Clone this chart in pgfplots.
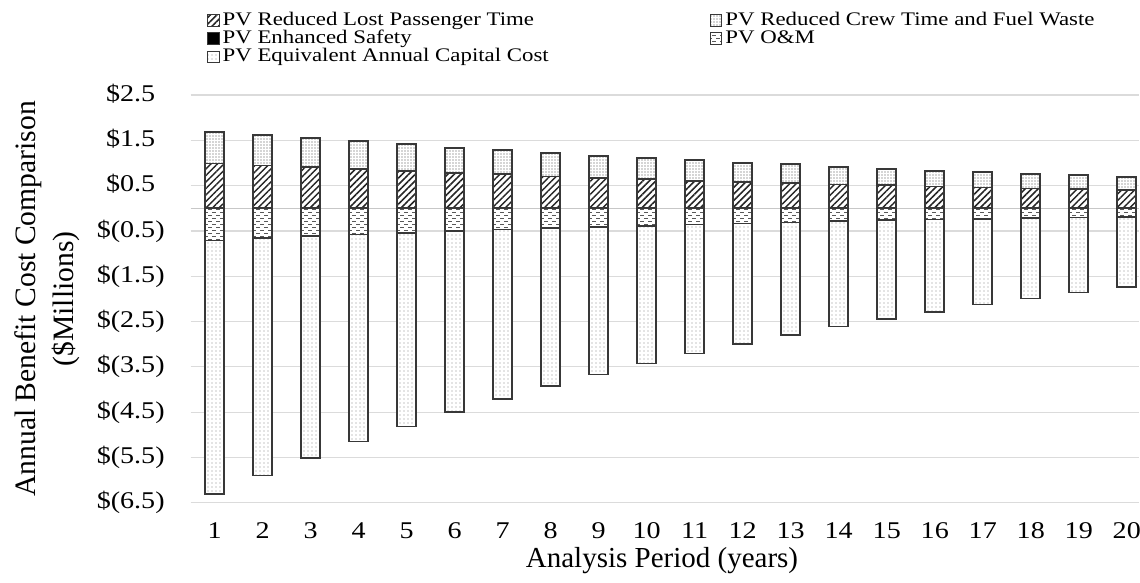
\documentclass[border=0pt]{standalone}
\usepackage{fontspec}
\setmainfont{Liberation Serif}
\usepackage{pgfplots}
\pgfplotsset{compat=1.18}
\usepackage{pgfplotstable}
\usetikzlibrary{patterns,patterns.meta}

\pgfdeclarepatternformonly{hdash}{\pgfqpoint{-0.5pt}{-0.5pt}}{\pgfqpoint{4.5pt}{3.5pt}}{\pgfqpoint{4pt}{3pt}}{%
  \pgfsetlinewidth{0.45pt}%
  \pgfpathmoveto{\pgfqpoint{0.2pt}{0.75pt}}\pgfpathlineto{\pgfqpoint{1.9pt}{0.75pt}}%
  \pgfpathmoveto{\pgfqpoint{2.2pt}{2.25pt}}\pgfpathlineto{\pgfqpoint{3.9pt}{2.25pt}}%
  \pgfusepath{stroke}}

\pgfplotstableread{
x pass crew safe
1  0.985 0.693 0.010
2  0.940 0.678 0.010
3  0.905 0.640 0.010
4  0.861 0.609 0.010
5  0.817 0.587 0.010
6  0.779 0.552 0.010
7  0.751 0.521 0.010
8  0.698 0.507 0.010
9  0.662 0.493 0.010
10 0.640 0.464 0.010
11 0.603 0.457 0.010
12 0.581 0.419 0.010
13 0.559 0.403 0.010
14 0.521 0.391 0.010
15 0.508 0.353 0.010
16 0.477 0.346 0.010
17 0.455 0.340 0.010
18 0.433 0.324 0.010
19 0.419 0.301 0.010
20 0.397 0.287 0.010
}\postab

\pgfplotstableread{
x om cap
1  -0.715 -5.592
2  -0.662 -5.241
3  -0.618 -4.894
4  -0.583 -4.569
5  -0.545 -4.276
6  -0.508 -3.989
7  -0.472 -3.738
8  -0.442 -3.487
9  -0.419 -3.254
10 -0.391 -3.039
11 -0.362 -2.848
12 -0.340 -2.656
13 -0.318 -2.479
14 -0.287 -2.327
15 -0.258 -2.186
16 -0.252 -2.037
17 -0.236 -1.892
18 -0.221 -1.775
19 -0.208 -1.655
20 -0.192 -1.545
}\negtab

\newcommand{\lgx}[1]{\scalebox{1.19}[1]{#1}}

\pgfplotsset{
  baseax/.style={
    scale only axis, width=474.15pt, height=203.85pt,
    at={(95.35pt,40.15pt)}, anchor=south west,
    xmin=0.5, xmax=20.255, ymin=-6.5, ymax=2.5,
    ybar stacked, bar width=9.5pt,
  },
  sq legend/.style={legend image code/.code={\draw[##1,line width=0.5pt] (0pt,-2.9pt) rectangle (5.8pt,2.9pt);}},
  barbase/.style={draw=black!78, line width=0.8pt, fill=white, sq legend},
  passS/.style={barbase, postaction={pattern={Lines[angle=45,distance=2.3pt,line width=0.75pt]}, pattern color=black!85}},
  crewS/.style={barbase, postaction={pattern={Dots[distance=1.5pt,radius=0.32pt]}, pattern color=black!70}},
  safeS/.style={barbase, fill=black},
  omS/.style={barbase, postaction={pattern=hdash, pattern color=black!65}},
  capS/.style={barbase, postaction={pattern={Dots[distance=2pt,radius=0.28pt]}, pattern color=black!45}},
}

\begin{document}
\begin{tikzpicture}
\begin{axis}[baseax,
  axis line style={draw=none}, major tick length=0pt, tick style={draw=none},
  ymajorgrids, grid style={draw=black!14, line width=0.6pt},
  ytick={-6.5,-5.5,-4.5,-3.5,-2.5,-1.5,-0.5,0.5,1.5,2.5},
  yticklabels={\$(6.5),\$(5.5),\$(4.5),\$(3.5),\$(2.5),\$(1.5),\$(0.5),\$0.5\phantom{)},\$1.5\phantom{)},\$2.5\phantom{)}},
  extra y ticks={0}, extra y tick labels={},
  extra y tick style={grid style={draw=black!22, line width=0.7pt}},
  xtick={1,2,3,4,5,6,7,8,9,10,11,12,13,14,15,16,17,18,19,20},
  xticklabels={1,2,3,4,5,6,7,8,9,10,11,12,13,14,15,16,17,18,19,20},
  ticklabel style={font=\fontsize{12}{14}\selectfont},
  yticklabel style={anchor=east, inner sep=0pt, xshift=-12.8pt, xscale=1.17},
  xticklabel style={anchor=base, inner sep=0pt, yshift=-18.1pt, xscale=1.17},
  xlabel={Analysis Period (years)},
  xlabel style={font=\fontsize{14.5}{16}\selectfont, at={(axis description cs:0.497,-0.160)}, anchor=base, inner sep=0pt},
  ylabel={Annual Benefit Cost Comparison\\(\$Millions)},
  ylabel style={font=\fontsize{14.8}{19}\selectfont, align=center, at={(axis description cs:-0.186,0.5)}, anchor=north, inner sep=0pt},
]
\addplot[omS] table[x=x,y=om]{\negtab};
\addplot[capS] table[x=x,y=cap]{\negtab};
\end{axis}
\begin{axis}[baseax, hide axis,
  legend columns=2,
  legend style={at={(axis description cs:0.0172,1.206)}, anchor=north west, draw=none, fill=none,
    inner sep=0pt, outer sep=0pt, row sep=0pt,
    font=\fontsize{9.6}{11}\selectfont,
    nodes={inner ysep=0pt, inner xsep=1.5pt, text height=7pt, text depth=2.2pt},
    /tikz/every even column/.append style={column sep=79pt}},
  legend cell align=left,
]
\addplot[passS] table[x=x,y=pass]{\postab};
\addlegendentry{\lgx{PV Reduced Lost Passenger Time}}
\addplot[crewS] table[x=x,y=crew]{\postab};
\addlegendentry{\lgx{PV Reduced Crew Time and Fuel Waste}}
\addplot[safeS] table[x=x,y=safe]{\postab};
\addlegendentry{\lgx{PV Enhanced Safety}}
\addlegendimage{omS}
\addlegendentry{\lgx{PV O\&M}}
\addlegendimage{capS}
\addlegendentry{\lgx{PV Equivalent Annual Capital Cost}}
\end{axis}
\pgfresetboundingbox
\useasboundingbox (0,0) rectangle (570pt,291.5pt);
\end{tikzpicture}
\end{document}
